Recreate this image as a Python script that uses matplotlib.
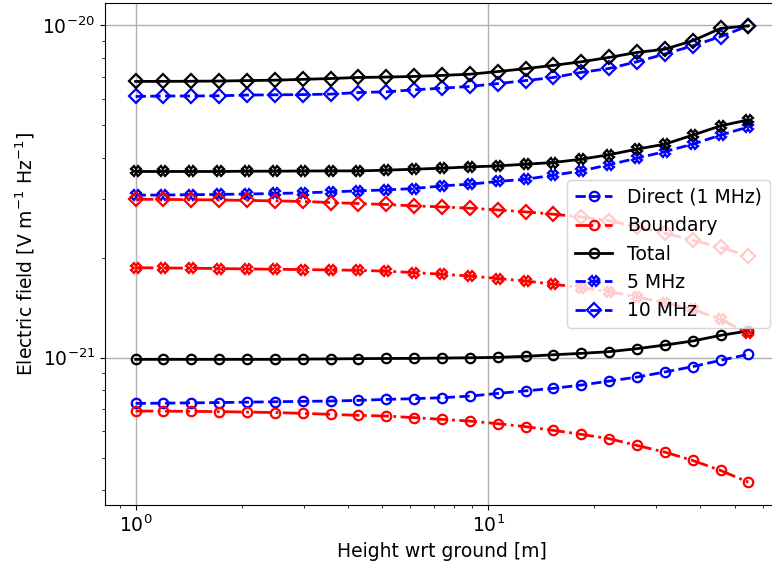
import matplotlib
matplotlib.use("Agg")
import matplotlib.pyplot as plt
from matplotlib.ticker import NullFormatter

# Heights [m]
height = [1.000, 1.199, 1.439, 1.726, 2.070, 2.483, 2.979, 3.573, 4.285, 5.140,
          6.166, 7.396, 8.872, 10.64, 12.76, 15.31, 18.37, 22.03, 26.42, 31.70,
          38.02, 45.60, 54.70]

# Electric field values in units of 1e-21 V m^-1 Hz^-1
direct_1 = [0.7283, 0.7294, 0.7309, 0.7324, 0.7345, 0.7365, 0.7385, 0.7400, 0.7436, 0.7488,
            0.7524, 0.7576, 0.7660, 0.7803, 0.7942, 0.8082, 0.8269, 0.8500, 0.8739, 0.9051,
            0.9395, 0.9815, 1.023]
boundary_1 = [0.6906, 0.6901, 0.6891, 0.6877, 0.6857, 0.6834, 0.6796, 0.6749, 0.6703, 0.6670,
              0.6597, 0.6520, 0.6442, 0.6327, 0.6198, 0.6041, 0.5876, 0.5702, 0.5442, 0.5195,
              0.4904, 0.4576, 0.4218]
total_1 = [0.988, 0.988, 0.988, 0.988, 0.988, 0.988, 0.990, 0.991, 0.993, 0.994,
           0.995, 0.997, 0.999, 1.002, 1.009, 1.020, 1.030, 1.042, 1.064, 1.091,
           1.122, 1.167, 1.203]

direct_5 = [3.083, 3.086, 3.093, 3.099, 3.108, 3.119, 3.132, 3.154, 3.176, 3.198,
            3.228, 3.288, 3.327, 3.390, 3.443, 3.540, 3.648, 3.808, 3.984, 4.169,
            4.390, 4.673, 4.950]
boundary_5 = [1.864, 1.862, 1.858, 1.854, 1.849, 1.845, 1.841, 1.836, 1.832, 1.820,
              1.803, 1.782, 1.761, 1.730, 1.701, 1.663, 1.625, 1.580, 1.522, 1.465,
              1.398, 1.304, 1.184]
total_5 = [3.633, 3.633, 3.633, 3.633, 3.640, 3.640, 3.645, 3.648, 3.648, 3.666,
           3.691, 3.717, 3.750, 3.776, 3.821, 3.866, 3.956, 4.081, 4.241, 4.391,
           4.673, 4.984, 5.196]

direct_10 = [6.110, 6.130, 6.130, 6.140, 6.170, 6.180, 6.190, 6.210, 6.280, 6.310,
             6.400, 6.470, 6.550, 6.680, 6.820, 6.970, 7.220, 7.420, 7.770, 8.200,
             8.680, 9.250, 9.970]
boundary_10 = [2.998, 2.994, 2.988, 2.982, 2.973, 2.963, 2.951, 2.930, 2.910, 2.890,
               2.862, 2.842, 2.817, 2.784, 2.746, 2.702, 2.652, 2.582, 2.477, 2.368,
               2.256, 2.149, 2.023]
total_10 = [6.780, 6.785, 6.790, 6.800, 6.820, 6.840, 6.880, 6.920, 6.970, 6.990,
            7.020, 7.070, 7.130, 7.260, 7.410, 7.580, 7.770, 8.010, 8.290, 8.480,
            8.990, 9.790, 9.970]

unit = 1e-21
x_major = [1, 10]
y_major = [1e-21, 1e-20]

plt.rcParams['font.family'] = ['DejaVu Sans']
plt.rcParams['font.size'] = 13.5

fig = plt.figure(figsize=(7.72, 5.69), dpi=100)
ax = fig.add_axes([105/772, (569-505)/569, (779-105)/772, (505-3)/569])

lw = 2.0
ms = 6.8
mew = 1.6

def s(vals):
    return [v * unit for v in vals]

series = [
    (direct_1, 'b', '--', 'o', 'Direct (1 MHz)'),
    (boundary_1, 'r', '-.', 'o', 'Boundary'),
    (total_1, 'k', '-', 'o', 'Total'),
    (direct_5, 'b', '--', 'X', '5 MHz'),
    (boundary_5, 'r', '-.', 'X', None),
    (total_5, 'k', '-', 'X', None),
    (direct_10, 'b', '--', 'D', '10 MHz'),
    (boundary_10, 'r', '-.', 'D', None),
    (total_10, 'k', '-', 'D', None),
]

for vals, c, ls, mk, lab in series:
    ax.plot(height, s(vals), color=c, linestyle=ls, marker=mk, lw=lw,
            markersize=ms, markerfacecolor='none', markeredgewidth=mew,
            label=lab)

ax.set_xscale('log')
ax.set_yscale('log')
xlim = ax.get_xlim()
ylim = ax.get_ylim()
ax.set_xticks(x_major)
ax.set_yticks(y_major)
ax.xaxis.set_minor_formatter(NullFormatter())
ax.yaxis.set_minor_formatter(NullFormatter())
ax.set_xlim(xlim)
ax.set_ylim(ylim)
ax.grid(True, which='major', color='#b0b0b0', linewidth=1.0)
ax.set_xlabel('Height wrt ground [m]')
ax.set_ylabel('Electric field [V m$^{-1}$ Hz$^{-1}$]')

handles, labels = ax.get_legend_handles_labels()
ax.legend(handles, labels, loc='center right')

fig.savefig('out.png', dpi=100)
